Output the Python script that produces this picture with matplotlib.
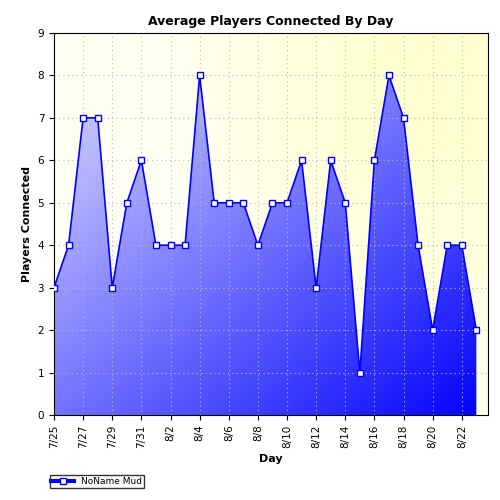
import matplotlib
matplotlib.use("Agg")
import matplotlib.pyplot as plt
import numpy as np
from matplotlib.lines import Line2D

days = ["7/25","7/26","7/27","7/28","7/29","7/30","7/31","8/1","8/2","8/3","8/4","8/5","8/6","8/7","8/8",
        "8/9","8/10","8/11","8/12","8/13","8/14","8/15","8/16","8/17","8/18","8/19","8/20","8/21","8/22","8/23"]
players = [3,4,7,7,3,5,6,4,4,4,8,5,5,5,4,5,5,6,3,6,5,1,6,8,7,4,2,4,4,2]

fig = plt.figure(figsize=(5,5), dpi=100)
fig.patch.set_facecolor("white")
ax = fig.add_axes([0.108, 0.17, 0.868, 0.764])
x = np.arange(len(players))
xmax = 29.8
ax.set_xlim(0, xmax); ax.set_ylim(0, 9)

bg = np.zeros((2,2,3))
bg[0,0] = [1,1,1]; bg[0,1] = [1,1,0.9]; bg[1,0] = [1,1,0.95]; bg[1,1] = [1,1,0.82]
ax.imshow(bg, extent=[0,xmax,0,9], aspect="auto", origin="lower", interpolation="bilinear", zorder=0)

n = 200
gx, gy = np.meshgrid(np.linspace(0,1,n), np.linspace(0,1,n))
t = np.clip((gx + (1-gy))/2, 0, 1)
top = np.array([0.9,0.9,1.0]); bot = np.array([0.0,0.0,1.0])
img = top[None,None,:]*(1-t[...,None]) + bot[None,None,:]*t[...,None]
im = ax.imshow(img, extent=[0,xmax,0,9], aspect="auto", origin="lower", zorder=1)
clip = plt.Polygon(np.column_stack([np.r_[x, x[::-1]], np.r_[players, np.zeros(len(x))]]), transform=ax.transData)
im.set_clip_path(clip)

ax.grid(True, color="#bbbbbb", linestyle=(0,(1,3)), linewidth=0.8, zorder=2)
ax.plot(x, players, color="#0000ff", lw=1.2, marker="s", ms=5, mfc="white", mec="#0000ff", mew=1, zorder=3)

ax.set_xticks(x[::2]); ax.set_xticklabels(days[::2], rotation=90, fontsize=7.5)
ax.set_yticks(range(10)); ax.tick_params(labelsize=7.5)
ax.set_title("Average Players Connected By Day", fontsize=9, fontweight="bold")
ax.set_xlabel("Day", fontsize=8, fontweight="bold")
ax.set_ylabel("Players Connected", fontsize=8, fontweight="bold")
h = Line2D([], [], color="#0000ff", lw=3, marker="s", ms=5, mfc="white", mec="#0000ff")
fig.legend([h], ["NoName Mud"], loc="lower left", bbox_to_anchor=(0.09, 0.015), fontsize=6.5, frameon=True,
           fancybox=False, edgecolor="black", borderpad=0.2, handlelength=2.5)
fig.savefig("out.png", dpi=100)
